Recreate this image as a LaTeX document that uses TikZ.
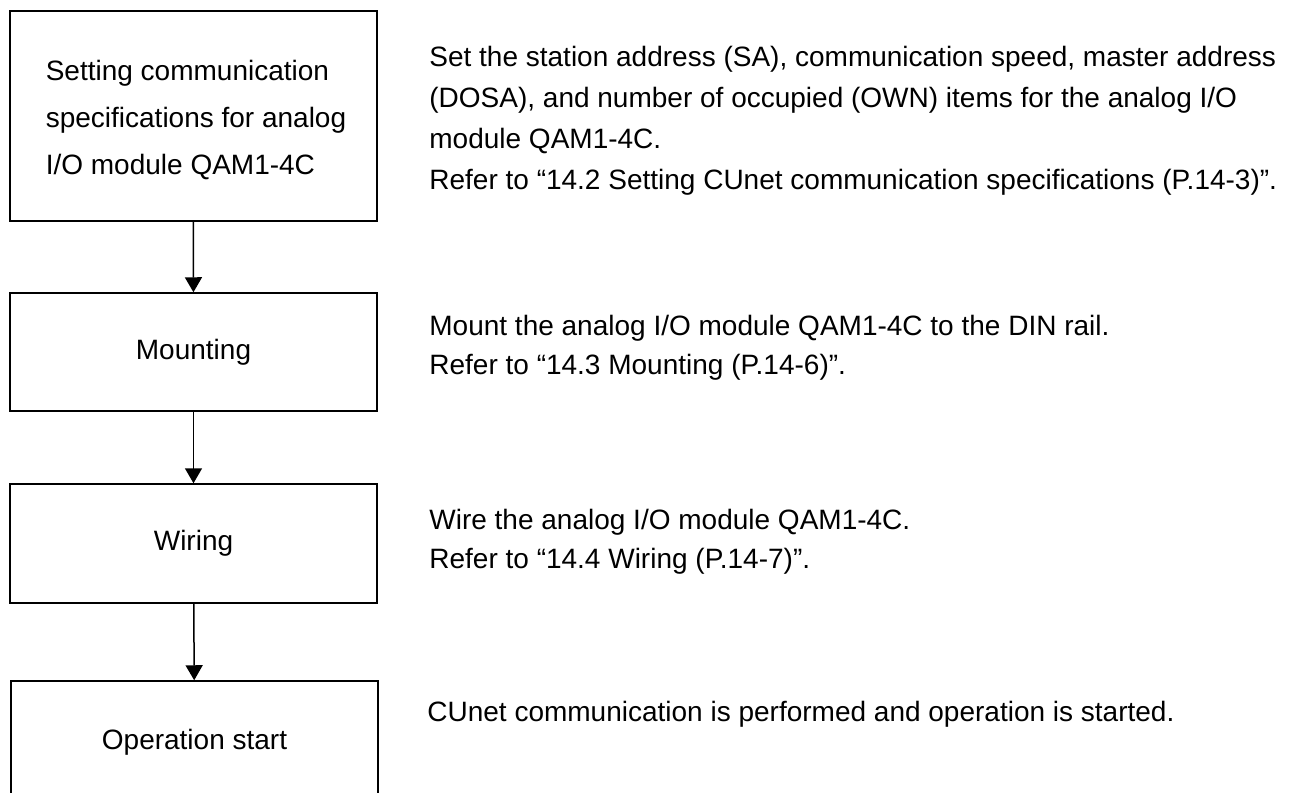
\documentclass[tikz,border=0pt]{standalone}
\usepackage{fontspec}
\setmainfont{Liberation Sans}
\usetikzlibrary{arrows.meta}

\begin{document}
\begin{tikzpicture}[x=0.5pt, y=-0.5pt, % 1 unit = 1 pixel of the page, y runs down
    stepbox/.style={draw, line width=0.75pt, inner sep=0pt, minimum width=183.5pt},
    flow/.style={line width=0.75pt, -{Triangle[length=7.5pt, width=8.5pt]}},
    note/.style={anchor=west, inner sep=0pt, align=left}]
    \useasboundingbox (0,0) rectangle (1292,793);
    \fontsize{14pt}{19.5pt}\selectfont
    % 1. step boxes (left column)
    \node[stepbox, minimum height=105pt] (spec) at (193.25,116) {};
    \node[align=left, inner sep=0pt, font=\fontsize{14pt}{23.5pt}\selectfont]
        (spectext) at (196,120)
        {Setting communication\\specifications for analog\\I/O module QAM1-4C};
    \node[stepbox, minimum height=59pt] (mount) at (193.5,352) {Mounting};
    \node[stepbox, minimum height=59.5pt] (wire) at (193.5,543.5) {Wiring};
    % last box runs off the bottom of the page
    \node[stepbox, minimum height=61pt] (start) at (194.5,742) {Operation start};
    % 2. arrows between the steps
    \draw[flow] (spec) -- (mount);
    \draw[flow] (mount) -- (wire);
    \draw[flow] (wire) -- (start);
    % 3. explanations (right column)
    \node[note, font=\fontsize{14pt}{20.5pt}\selectfont] (specnote) at (429,121)
        {Set the station address (SA), communication speed, master address\\
         (DOSA), and number of occupied (OWN) items for the analog I/O\\
         module QAM1-4C.\\
         Refer to “14.2 Setting CUnet communication specifications (P.14-3)”.};
    \node[note] (mountnote) at (429,348)
        {Mount the analog I/O module QAM1-4C to the DIN rail.\\
         Refer to “14.3 Mounting (P.14-6)”.};
    \node[note] (wirenote) at (429,542)
        {Wire the analog I/O module QAM1-4C.\\
         Refer to “14.4 Wiring (P.14-7)”.};
    \node[note] (startnote) at (427,714)
        {CUnet communication is performed and operation is started.};
\end{tikzpicture}
\end{document}
